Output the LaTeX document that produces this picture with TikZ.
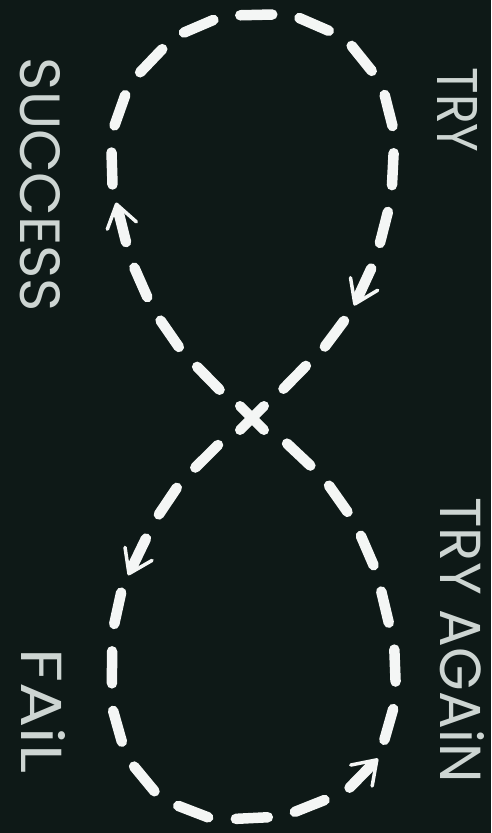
\documentclass[tikz,border=0pt]{standalone}
\usepackage{fontspec}
\setmainfont{Poppins}
\usepackage{graphicx}
\usetikzlibrary{decorations.markings}
\definecolor{board}{HTML}{0E1917}
\definecolor{chalk}{HTML}{F4F6F5}
\definecolor{chalktext}{HTML}{CDD5D2}
\newcommand{\chalkdash}{\draw[dashstroke] (-16,0) -- (16,0);}
\newcommand{\chalkchevron}{\draw[chev] (1,-15) -- (23,0) -- (1,15);}
\begin{document}
\begin{tikzpicture}[x=1pt,y=-1pt,
  dashstroke/.style={draw=chalk, line width=10.5pt, line cap=round},
  chev/.style={draw=chalk, line width=3.5pt, line cap=round, line join=round},
  crossline/.style={draw=chalk, line width=10pt, line cap=round},
  boardtext/.style={text=chalktext, inner sep=0pt, rotate=-90},
  dashedloop/.style={preaction={decorate, decoration={markings,
     mark=between positions 0.0555556 and 0.95 step 0.0555556 with {\chalkdash}}}},
  toparrows/.style={postaction={decorate, decoration={markings,
     mark=at position 0.2222222 with {\chalkchevron},
     mark=at position 0.8333333 with {\chalkchevron}}}},
  bottomarrows/.style={postaction={decorate, decoration={markings,
     mark=at position 0.1666667 with {\chalkchevron},
     mark=at position 0.6111111 with {\chalkchevron}}}}]
\fill[board] (0,0) rectangle (491,833);
\useasboundingbox (0,0) rectangle (491,833);
\coordinate (C) at (252,418);
% upper loop, travelled from the crossing up the left side
\path[dashedloop, toparrows] plot[smooth, tension=0.55] coordinates {
  (252,418) (212,382) (172,337) (142,285) (123,230) (112,168) (120,110)
  (150,62) (197,27) (253,15) (308,22) (357,53) (387,105) (393,163)
  (385,223) (365,282) (335,333) (295,377) (252,418)};
% lower loop, travelled from the crossing down the left side
\path[dashedloop, bottomarrows] plot[smooth, tension=0.55] coordinates {
  (252,418) (210,453) (170,498) (138,555) (118,607) (112,668) (118,728)
  (147,782) (197,813) (253,818) (307,807) (360,777) (388,727) (395,667)
  (385,607) (367,550) (337,497) (297,453) (252,418)};
% crossing
\draw[crossline] ([shift={(-12,-12)}]C) -- ([shift={(12,12)}]C);
\draw[crossline] ([shift={(12,-12)}]C) -- ([shift={(-12,12)}]C);
% labels
\node[boardtext] (success) at (40,185) {\resizebox{254pt}{40pt}{SUCCESS}};
\node[boardtext] (try) at (457,110) {\resizebox{85pt}{40pt}{TRY}};
\node[boardtext] (tryagain) at (462,640) {\resizebox{285pt}{44pt}{TRY AGAiN}};
\node[boardtext] (fail) at (44,711) {\resizebox{125pt}{44pt}{FAiL}};
\end{tikzpicture}
\end{document}
